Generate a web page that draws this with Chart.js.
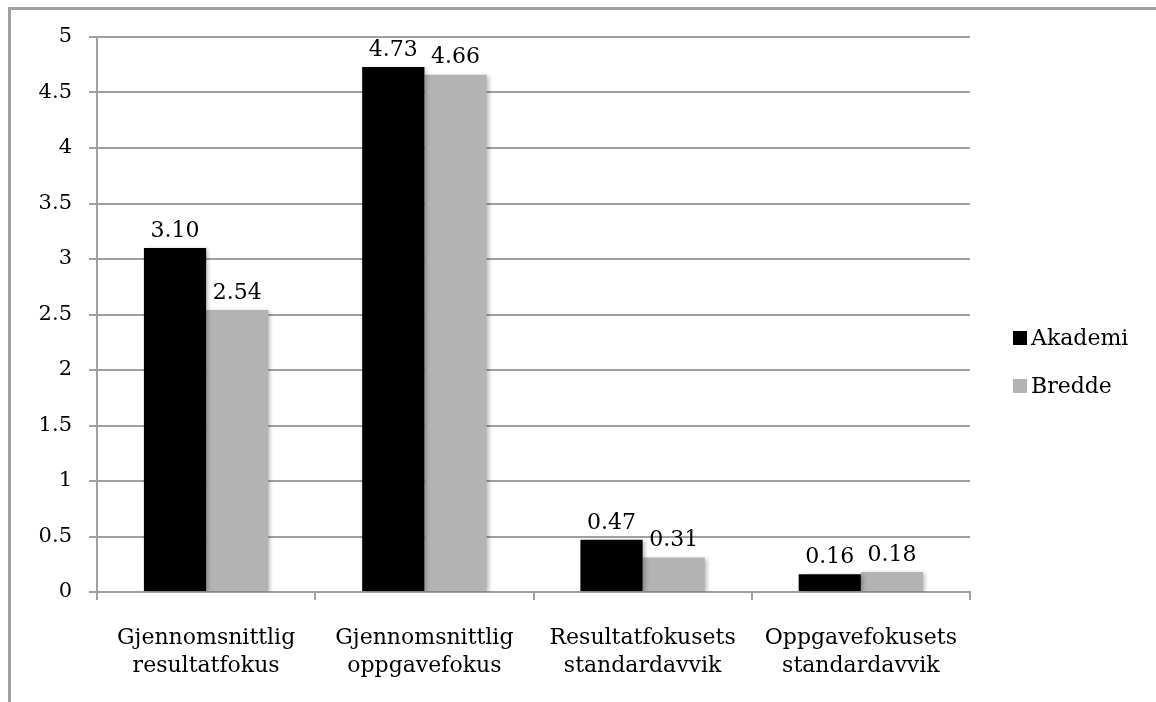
<!DOCTYPE html>
<html>
<head>
<meta charset="utf-8">
<script src="https://cdn.jsdelivr.net/npm/chart.js@4.4.1/dist/chart.umd.min.js"></script>
<style>
  html, body { margin: 0; padding: 0; background: #fff; }
  #wrap { width: 1156px; height: 702px; position: relative; }
</style>
</head>
<body>
<div id="wrap"><canvas id="miGrafico" width="1156" height="702"></canvas></div>
<script>
const kategorier = [
    ['Gjennomsnittlig', 'resultatfokus'],
    ['Gjennomsnittlig', 'oppgavefokus'],
    ['Resultatfokusets', 'standardavvik'],
    ['Oppgavefokusets', 'standardavvik']
];
const akademi = [3.10, 4.73, 0.47, 0.16];
const bredde = [2.54, 4.66, 0.31, 0.18];
const serieNavn = ['Akademi', 'Bredde'];
const yTicks = [0, 0.5, 1, 1.5, 2, 2.5, 3, 3.5, 4, 4.5, 5];

const skrift = "'DejaVu Serif', serif";
const gra = '#a0a0a0';

// ramme rundt diagrammet (bare topp og venstre synes)
const ramme = {
    id: 'ramme',
    beforeDraw(chart) {
        const ctx = chart.ctx;
        ctx.save();
        ctx.strokeStyle = gra;
        ctx.lineWidth = 3;
        ctx.beginPath();
        ctx.moveTo(9.5, 702);
        ctx.lineTo(9.5, 8.5);
        ctx.lineTo(1156, 8.5);
        ctx.stroke();
        ctx.restore();
    }
};

// litt skygge på stolpene
const skygge = {
    id: 'skygge',
    beforeDatasetsDraw(chart) {
        const ctx = chart.ctx;
        ctx.save();
        ctx.shadowColor = 'rgba(0,0,0,0.25)';
        ctx.shadowBlur = 4;
        ctx.shadowOffsetX = 2;
        ctx.shadowOffsetY = 1;
    },
    afterDatasetsDraw(chart) {
        chart.ctx.restore();
    }
};

// verdier over stolpene
const verdier = {
    id: 'verdier',
    afterDraw(chart) {
        const ctx = chart.ctx;
        ctx.save();
        ctx.font = '22px ' + skrift;
        ctx.fillStyle = '#000';
        ctx.textAlign = 'center';
        ctx.textBaseline = 'bottom';
        chart.data.datasets.forEach((ds, i) => {
            chart.getDatasetMeta(i).data.forEach((bar, j) => {
                ctx.fillText(ds.data[j].toFixed(2), bar.x, bar.y - 6);
            });
        });
        ctx.restore();
    }
};

// egen forklaring til høyre
const forklaring = {
    id: 'forklaring',
    afterDraw(chart) {
        const ctx = chart.ctx;
        ctx.save();
        ctx.font = '22px ' + skrift;
        ctx.textBaseline = 'middle';
        ctx.textAlign = 'left';
        chart.data.datasets.forEach((ds, i) => {
            const y = 338 + i * 48;
            ctx.fillStyle = ds.backgroundColor;
            ctx.fillRect(1013, y - 7, 14, 14);
            ctx.fillStyle = '#000';
            ctx.fillText(ds.label, 1031, y + 1);
        });
        ctx.restore();
    }
};

const ctx = document.getElementById('miGrafico').getContext('2d');
const miGrafico = new Chart(ctx, {
    type: 'bar',
    data: {
        labels: kategorier,
        datasets: [{
            label: serieNavn[0],
            data: akademi,
            backgroundColor: '#000000',
            barPercentage: 1,
            categoryPercentage: 0.57
        }, {
            label: serieNavn[1],
            data: bredde,
            backgroundColor: '#b3b3b3',
            barPercentage: 1,
            categoryPercentage: 0.57
        }]
    },
    options: {
        responsive: false,
        animation: false,
        events: [],
        layout: { padding: { top: 37, right: 186, left: 0, bottom: 0 } },
        plugins: {
            legend: { display: false },
            tooltip: { enabled: false }
        },
        scales: {
            x: {
                grid: {
                    offset: true,
                    drawOnChartArea: false,
                    drawTicks: true,
                    tickLength: 8,
                    color: gra,
                    lineWidth: 2
                },
                border: { display: true, color: gra, width: 2 },
                ticks: {
                    color: '#000',
                    padding: 25,
                    maxRotation: 0,
                    font: { family: skrift, size: 22, lineHeight: 1.25 }
                },
                afterFit(s) { s.height = 110; }
            },
            y: {
                min: 0,
                max: 5,
                afterBuildTicks(s) { s.ticks = yTicks.map(v => ({ value: v })); },
                grid: {
                    color: gra,
                    lineWidth: 2,
                    drawTicks: true,
                    tickLength: 8
                },
                border: { display: true, color: gra, width: 2 },
                ticks: {
                    color: '#000',
                    padding: 17,
                    font: { family: skrift, size: 21 },
                    callback: v => String(v)
                },
                afterFit(s) { s.width = 97; }
            }
        }
    },
    plugins: [ramme, skygge, verdier, forklaring]
});
</script>
</body>
</html>
